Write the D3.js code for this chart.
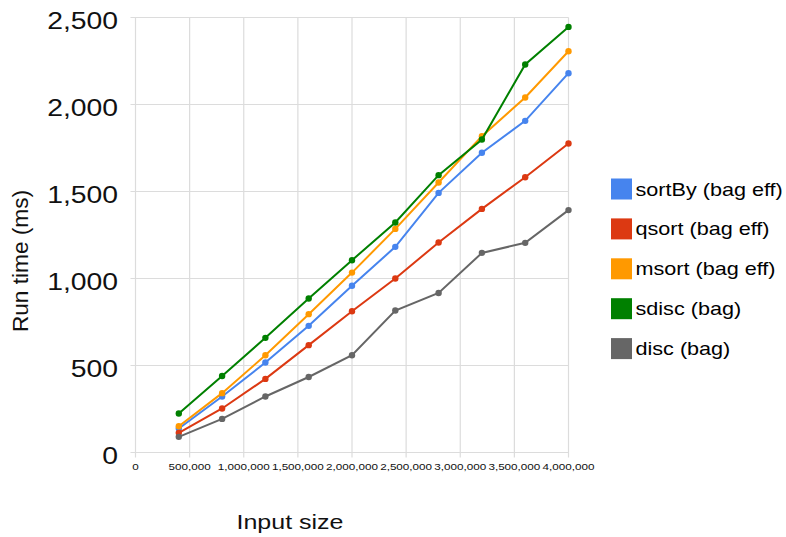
<!DOCTYPE html>
<html>
<head>
<meta charset="utf-8">
<script src="https://cdn.jsdelivr.net/npm/d3@7"></script>
<style>
  body { margin: 0; background: #fff; }
  svg { display: block; font-family: "Liberation Sans", Arial, sans-serif; }
</style>
</head>
<body>
<div id="chart"></div>
<script>
// data
const inputSizes = [400000, 800000, 1200000, 1600000, 2000000, 2400000, 2800000, 3200000, 3600000, 4000000];
const sortBy = [138, 322, 517, 728, 958, 1182, 1492, 1723, 1906, 2180];
const qsort  = [113, 253, 423, 617, 812, 1000, 1207, 1400, 1582, 1776];
const msort  = [151, 341, 559, 795, 1034, 1285, 1552, 1818, 2040, 2306];
const sdisc  = [224, 440, 659, 885, 1105, 1322, 1594, 1799, 2230, 2446];
const disc   = [90, 193, 322, 434, 559, 816, 917, 1147, 1205, 1393];

const seriesNames = ["sortBy (bag eff)", "qsort (bag eff)", "msort (bag eff)", "sdisc (bag)", "disc (bag)"];
const seriesColors = ["#4684ee", "#dc3912", "#ff9900", "#008000", "#666666"];
const seriesValues = [sortBy, qsort, msort, sdisc, disc];

const xTicks = [0, 500000, 1000000, 1500000, 2000000, 2500000, 3000000, 3500000, 4000000];
const yTicks = [0, 500, 1000, 1500, 2000, 2500];

const width = 786, height = 537;
const plot = { left: 135.5, right: 568.5, top: 17.5, bottom: 452.5 };

const x = d3.scaleLinear().domain([0, 4000000]).range([plot.left, plot.right]);
const y = d3.scaleLinear().domain([0, 2500]).range([plot.bottom, plot.top]);

const svg = d3.select("#chart").append("svg")
    .attr("width", width)
    .attr("height", height);

// text helper, the source text is drawn a bit wider than normal
function label(g, str, tx, ty, size, sx, anchor, rot) {
  return g.append("text")
      .attr("transform", `translate(${tx},${ty})` + (rot ? ` rotate(${rot})` : "") + ` scale(${sx},1)`)
      .attr("font-size", size)
      .attr("text-anchor", anchor)
      .attr("fill", "#111")
      .text(str);
}

const fmt = d3.format(",");

// grid
const grid = svg.append("g").attr("stroke", "#dcdcdc").attr("stroke-width", 1.2);
grid.selectAll(".hg").data(yTicks).enter().append("line")
    .attr("x1", plot.left - 5).attr("x2", plot.right)
    .attr("y1", d => y(d)).attr("y2", d => y(d));
grid.selectAll(".vg").data(xTicks).enter().append("line")
    .attr("x1", d => x(d)).attr("x2", d => x(d))
    .attr("y1", plot.top).attr("y2", plot.bottom + 5);

// y labels
const yl = svg.append("g");
yTicks.forEach(t => label(yl, fmt(t), 118, y(t) + 11, 24, 1.18, "end"));

// x labels
const xl = svg.append("g");
xTicks.forEach(t => label(xl, fmt(t), x(t), 470, 9, 1.3, "middle"));

// axis titles
label(svg, "Input size", 290, 529, 20, 1.25, "middle");
label(svg, "Run time (ms)", 28, 261, 22, 1.03, "middle", -90);

// series
const line = d3.line()
    .x((d, i) => x(inputSizes[i]))
    .y(d => y(d));

seriesValues.forEach((vals, k) => {
  const g = svg.append("g");
  g.append("path")
      .datum(vals)
      .attr("d", line)
      .attr("fill", "none")
      .attr("stroke", seriesColors[k])
      .attr("stroke-width", 2);
  g.selectAll("circle").data(vals).enter().append("circle")
      .attr("cx", (d, i) => x(inputSizes[i]))
      .attr("cy", d => y(d))
      .attr("r", 3.2)
      .attr("fill", seriesColors[k]);
});

// legend
const legend = svg.append("g");
seriesNames.forEach((name, k) => {
  const cy = 189 + k * 39.9;
  legend.append("rect")
      .attr("x", 611).attr("y", cy - 10.5)
      .attr("width", 21).attr("height", 21)
      .attr("fill", seriesColors[k]);
  label(legend, name, 635.5, cy + 6.5, 18, 1.2, "start").attr("fill", "#000");
});
</script>
</body>
</html>
